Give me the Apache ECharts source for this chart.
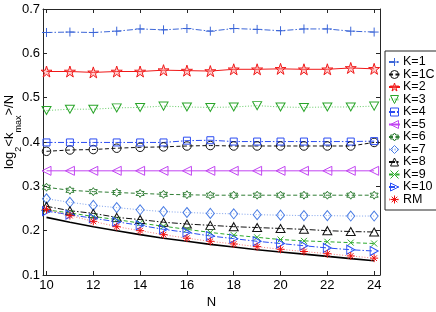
<!DOCTYPE html>
<html>
<head>
<meta charset="utf-8">
<script src="https://cdn.jsdelivr.net/npm/echarts@6/dist/echarts.min.js"></script>
<style>html,body{margin:0;padding:0;background:#fff}#c{width:436px;height:312px}</style>
</head>
<body>
<div id="c"></div>
<script>
const N = [10, 11, 12, 13, 14, 15, 16, 17, 18, 19, 20, 21, 22, 23, 24];
const xTicks = [10, 12, 14, 16, 18, 20, 22, 24];
const k1  = [0.647, 0.648, 0.647, 0.650, 0.655, 0.653, 0.656, 0.650, 0.656, 0.654, 0.651, 0.655, 0.655, 0.650, 0.648];
const k1c = [0.379, 0.382, 0.383, 0.386, 0.388, 0.389, 0.391, 0.392, 0.391, 0.391, 0.391, 0.391, 0.391, 0.391, 0.399];
const k2  = [0.559, 0.559, 0.557, 0.559, 0.559, 0.562, 0.561, 0.560, 0.564, 0.564, 0.565, 0.564, 0.564, 0.567, 0.565];
const k3  = [0.471, 0.474, 0.474, 0.477, 0.478, 0.481, 0.479, 0.478, 0.479, 0.482, 0.479, 0.478, 0.479, 0.479, 0.481];
const k4  = [0.399, 0.399, 0.399, 0.399, 0.399, 0.399, 0.403, 0.404, 0.401, 0.401, 0.401, 0.401, 0.401, 0.401, 0.402];
const k5  = [0.335, 0.335, 0.335, 0.335, 0.335, 0.335, 0.335, 0.335, 0.335, 0.335, 0.335, 0.335, 0.335, 0.335, 0.335];
const k6  = [0.298, 0.291, 0.288, 0.286, 0.284, 0.282, 0.281, 0.280, 0.280, 0.280, 0.280, 0.280, 0.280, 0.280, 0.280];
const k7  = [0.272, 0.264, 0.257, 0.252, 0.247, 0.243, 0.241, 0.239, 0.238, 0.236, 0.235, 0.234, 0.234, 0.233, 0.233];
const k8  = [0.255, 0.245, 0.239, 0.230, 0.225, 0.219, 0.215, 0.212, 0.209, 0.207, 0.205, 0.203, 0.200, 0.198, 0.197];
const k9  = [0.247, 0.240, 0.232, 0.225, 0.217, 0.210, 0.203, 0.196, 0.190, 0.185, 0.180, 0.177, 0.175, 0.173, 0.171];
const k10 = [0.244, 0.236, 0.228, 0.220, 0.212, 0.203, 0.196, 0.188, 0.182, 0.176, 0.171, 0.166, 0.161, 0.157, 0.154];
const rm  = [0.248, 0.234, 0.221, 0.209, 0.200, 0.191, 0.183, 0.176, 0.170, 0.164, 0.158, 0.153, 0.148, 0.143, 0.138];
const theory = [0.230, 0.219, 0.209, 0.200, 0.191, 0.183, 0.176, 0.169, 0.163, 0.157, 0.152, 0.147, 0.142, 0.137, 0.132];

const SYM = {
  plus: 'path://M0,5L10,5M5,0L5,10',
  cross: 'path://M0,0L10,10M10,0L0,10',
  aster: 'path://M0,5L10,5M5,0L5,10M1.5,1.5L8.5,8.5M8.5,1.5L1.5,8.5',
  star: 'path://M5,0L6.12,3.45L9.76,3.45L6.82,5.59L7.94,9.05L5,6.91L2.06,9.05L3.18,5.59L0.24,3.45L3.88,3.45Z',
  hexa: 'path://M5,0L6.44,2.5L9.33,2.5L7.89,5L9.33,7.5L6.44,7.5L5,10L3.56,7.5L0.67,7.5L2.11,5L0.67,2.5L3.56,2.5Z',
  up: 'path://M5,0L10,10L0,10Z',
  down: 'path://M0,0L10,0L5,10Z',
  left: 'path://M0,5L10,0L10,10Z',
  right: 'path://M10,5L0,0L0,10Z',
  rect: 'path://M0,0L10,0L10,10L0,10Z',
  diamond: 'path://M5,0L10,5L5,10L0,5Z',
  circle: 'circle'
};
const DASHDOT = [6, 2, 1.5, 2];
const DASHED = [4, 2.5];
const DOTTED = [1, 1.8];

const legendItems = [];
function mk(name, data, color, sym, size, dash, lineColor, fill) {
  legendItems.push({ name: name, itemStyle: { color: fill || 'none', borderColor: color, borderWidth: 1 } });
  return {
    name: name, type: 'line', data: N.map((n, i) => [n, data[i]]),
    symbol: SYM[sym], symbolSize: size,
    lineStyle: { color: lineColor || color, width: 1, type: dash },
    itemStyle: { color: fill || 'none', borderColor: color, borderWidth: 1 },
    emphasis: { disabled: true }, silent: true
  };
}

const series = [
  mk('K=1', k1, '#3c66d8', 'plus', 9, DASHDOT),
  mk('K=1C', k1c, '#111111', 'circle', 8.5, DASHED),
  mk('K=2', k2, '#f01818', 'star', 11, 'solid', '#f01818', 'rgba(255,120,120,0.35)'),
  mk('K=3', k3, '#2aa52a', 'down', [9, 8], DOTTED, '#66cc66'),
  mk('K=4', k4, '#2b4cf2', 'rect', 7, DASHDOT),
  mk('K=5', k5, '#c244f2', 'left', [9, 9], 'solid'),
  mk('K=6', k6, '#2f7d34', 'hexa', 8, DASHED),
  mk('K=7', k7, '#4a7de4', 'diamond', [8, 10], DOTTED, '#7fa2ec'),
  mk('K=8', k8, '#111111', 'up', [9, 8], DASHDOT),
  mk('K=9', k9, '#2daa2d', 'cross', 6, DASHED),
  mk('K=10', k10, '#2b50f5', 'right', [8, 9], DASHDOT),
  mk('RM', rm, '#ee1111', 'aster', 8, DOTTED, '#f47a7a'),
  {
    name: 'theory', type: 'line', data: N.map((n, i) => [n, theory[i]]),
    symbol: 'none', lineStyle: { color: '#000', width: 1.6, type: 'solid' },
    emphasis: { disabled: true }, silent: true
  }
];

const font = 'Liberation Sans, Arial, Helvetica, sans-serif';
const axisCol = '#262626';
const chart = echarts.init(document.getElementById('c'), null, { renderer: 'canvas' });
chart.setOption({
  animation: false,
  backgroundColor: '#fff',
  textStyle: { fontFamily: font },
  grid: { left: 43, top: 9, width: 337, height: 266, containLabel: false, outerBoundsMode: 'none' },
  legend: {
    orient: 'vertical', left: 385, top: 51,
    data: legendItems,
    itemWidth: 11, itemHeight: 10, itemGap: -2.5,
    padding: [3.5, 6, 3, 3],
    backgroundColor: '#fff', borderColor: axisCol, borderWidth: 1, borderRadius: 0,
    textStyle: { fontFamily: font, fontSize: 12.5, color: '#000', lineHeight: 15, padding: [0, 0, 0, -2] },
    selectedMode: false
  },
  xAxis: [{
    type: 'value', min: 9.85, max: 24.25, position: 'bottom',
    name: 'N', nameLocation: 'middle', nameGap: 21, nameMoveOverlap: false,
    nameTextStyle: { fontSize: 13, color: '#000', fontFamily: font },
    axisLine: { show: true, lineStyle: { color: axisCol, width: 1 } },
    axisTick: { show: true, inside: true, length: 4, customValues: xTicks, lineStyle: { color: axisCol } },
    axisLabel: { customValues: xTicks, margin: 4, fontSize: 13, color: '#000', fontFamily: font },
    splitLine: { show: false }
  }, {
    type: 'value', min: 9.85, max: 24.25, position: 'top',
    axisLine: { show: true, lineStyle: { color: axisCol, width: 1 } },
    axisTick: { show: true, inside: true, length: 4, customValues: xTicks, lineStyle: { color: axisCol } },
    axisLabel: { show: false }, splitLine: { show: false }
  }],
  yAxis: [{
    type: 'value', min: 0.1, max: 0.7, interval: 0.1, position: 'left',
    name: '{n|log}{s|2}{n|<k}{s|max}{n|>/N}', nameLocation: 'middle', nameGap: 20, nameRotate: 90,
    nameMoveOverlap: false,
    nameTextStyle: {
      color: '#000', fontFamily: font, padding: [0, 0, 0, 20],
      rich: {
        n: { fontSize: 13, fontFamily: font, color: '#000', lineHeight: 15, verticalAlign: 'top' },
        s: { fontSize: 9, fontFamily: font, color: '#000', lineHeight: 20, verticalAlign: 'bottom' }
      }
    },
    axisLine: { show: true, lineStyle: { color: axisCol, width: 1 } },
    axisTick: { show: true, inside: true, length: 4, lineStyle: { color: axisCol } },
    axisLabel: { margin: 3, fontSize: 13, color: '#000', fontFamily: font, formatter: v => v.toFixed(1) },
    splitLine: { show: false }
  }, {
    type: 'value', min: 0.1, max: 0.7, interval: 0.1, position: 'right',
    axisLine: { show: true, lineStyle: { color: axisCol, width: 1 } },
    axisTick: { show: true, inside: true, length: 4, lineStyle: { color: axisCol } },
    axisLabel: { show: false }, splitLine: { show: false }
  }],
  series: series
});
</script>
</body>
</html>
